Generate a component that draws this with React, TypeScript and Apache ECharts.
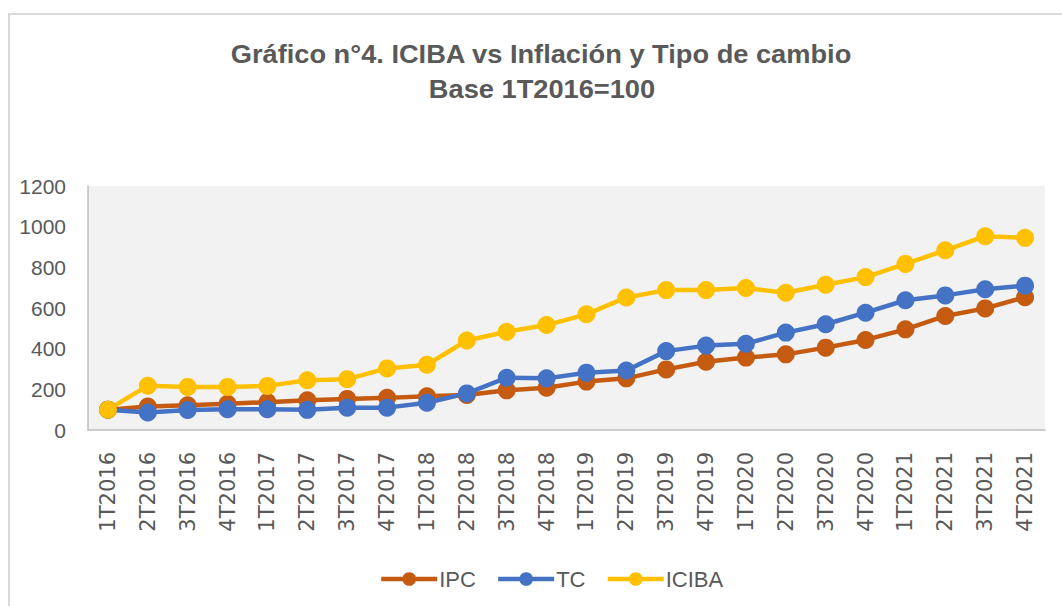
import React, { useEffect, useRef } from "react";
import * as echarts from "echarts";

const categories = [
  "1T2016", "2T2016", "3T2016", "4T2016",
  "1T2017", "2T2017", "3T2017", "4T2017",
  "1T2018", "2T2018", "3T2018", "4T2018",
  "1T2019", "2T2019", "3T2019", "4T2019",
  "1T2020", "2T2020", "3T2020", "4T2020",
  "1T2021", "2T2021", "3T2021", "4T2021",
];

const ipc = [100, 115, 122, 129, 137, 146, 153, 158, 166, 172, 195, 208, 238, 254, 298, 336, 356, 372, 405, 443, 495, 561, 598, 653];
const tc = [100, 86, 98, 102, 102, 99, 110, 110, 134, 180, 257, 254, 282, 293, 388, 415, 424, 479, 520, 577, 638, 662, 692, 710];
const iciba = [100, 218, 212, 212, 217, 245, 250, 303, 321, 440, 483, 516, 569, 652, 688, 688, 698, 675, 714, 752, 817, 884, 953, 945];

const titleLine1 = "Gráfico n°4. ICIBA vs Inflación y Tipo de cambio";
const titleLine2 = "Base 1T2016=100";

const COLORS = { ipc: "#C55A11", tc: "#4472C4", iciba: "#FFC000" };

export default function App() {
  const ref = useRef<HTMLDivElement>(null);

  useEffect(() => {
    if (!ref.current) return;
    const chart = echarts.init(ref.current, null, { renderer: "svg" });
    const mk = (name: string, data: number[], color: string) => ({
      name,
      type: "line",
      data,
      symbol: "circle",
      symbolSize: 18,
      itemStyle: { color },
      lineStyle: { color, width: 4.5 },
    });
    const titleFont = "bold 25px 'Liberation Sans', Arial, sans-serif";
    chart.setOption({
      animation: false,
      backgroundColor: "#ffffff",
      graphic: [
        {
          type: "rect",
          shape: { x: 9, y: 14, width: 1100, height: 700 },
          style: { fill: "none", stroke: "#d9d9d9", lineWidth: 2 },
          silent: true,
        },
        {
          type: "text",
          x: 541,
          y: 54,
          scaleX: 1.09,
          style: {
            text: titleLine1,
            font: titleFont,
            fill: "#595959",
            textAlign: "center",
            textVerticalAlign: "middle",
          },
        },
        {
          type: "text",
          x: 542,
          y: 89,
          scaleX: 1.09,
          style: {
            text: titleLine2,
            font: titleFont,
            fill: "#595959",
            textAlign: "center",
            textVerticalAlign: "middle",
          },
        },
      ],
      legend: {
        data: ["IPC", "TC", "ICIBA"],
        left: 374,
        top: 563,
        itemWidth: 56,
        itemHeight: 17,
        itemGap: 20,
        lineStyle: { width: 4.5 },
        textStyle: {
          fontFamily: "'Liberation Sans', Arial, sans-serif",
          fontSize: 22,
          color: "#595959",
          padding: [0, 0, 0, -3],
        },
      },
      grid: {
        left: 88,
        right: 17,
        top: 186,
        bottom: 176,
        show: true,
        backgroundColor: "#F2F2F2",
        borderWidth: 0,
      },
      xAxis: {
        type: "category",
        data: categories,
        boundaryGap: true,
        axisLine: { show: true, lineStyle: { color: "#BFBFBF", width: 1.5 } },
        axisTick: { show: false },
        axisLabel: {
          rotate: 90,
          margin: 22,
          interval: 0,
          color: "#595959",
          fontFamily: "'DejaVu Sans', sans-serif",
          fontSize: 21,
        },
        splitLine: { show: false },
      },
      yAxis: {
        type: "value",
        min: 0,
        max: 1200,
        interval: 200,
        axisLine: { show: true, lineStyle: { color: "#BFBFBF", width: 1.5 } },
        axisTick: { show: false },
        splitLine: { show: false },
        axisLabel: {
          margin: 22,
          color: "#595959",
          fontFamily: "'Liberation Sans', Arial, sans-serif",
          fontSize: 21,
          formatter: (v: number) => String(v),
        },
      },
      series: [
        mk("IPC", ipc, COLORS.ipc),
        mk("TC", tc, COLORS.tc),
        mk("ICIBA", iciba, COLORS.iciba),
      ],
    });
    return () => chart.dispose();
  }, []);

  return (
    <div
      ref={ref}
      style={{ position: "fixed", left: 0, top: 0, width: 1062, height: 606 }}
    />
  );
}
